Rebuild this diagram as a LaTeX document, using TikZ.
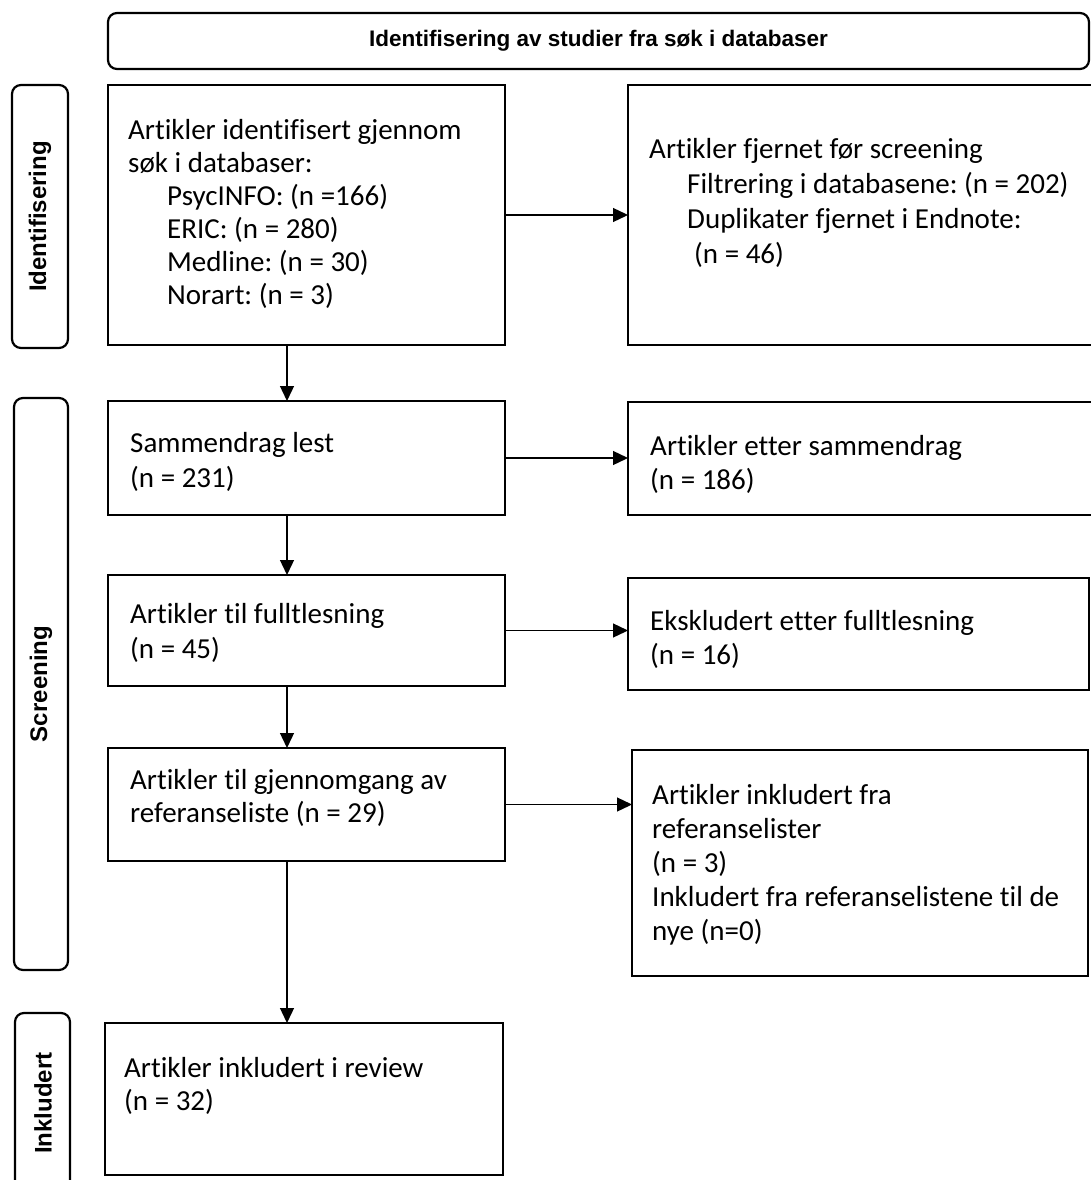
\documentclass[tikz,border=0pt]{standalone}
\usepackage{fontspec}
\setmainfont{Carlito}[Ligatures=NoCommon]
\newfontfamily\labelfont{Liberation Sans}
\usetikzlibrary{arrows.meta,calc}
\frenchspacing
\begin{document}
\begin{tikzpicture}[x=1pt,y=-1pt,
  box/.style={draw=black, line width=2.4pt, rectangle, inner sep=0pt, outer sep=0pt},
  lab/.style={draw=black, line width=2.2pt, rectangle, rounded corners=9pt, inner sep=0pt, outer sep=0pt,
    font=\labelfont\bfseries\fontsize{24}{28}\selectfont},
  body/.style={anchor=north west, inner sep=0pt, align=left},
  arr/.style={line width=1.3pt, -{Triangle[length=15pt,width=14pt]}}]
\useasboundingbox (0,0) rectangle (1091,1180);
\clip (0,0) rectangle (1091,1180);
% header
\node[lab, minimum width=981pt, minimum height=56pt, font=\labelfont\bfseries\fontsize{22.5}{27}\selectfont] (hdr) at (598.5,41) {Identifisering av studier fra søk i databaser};
% phase labels
\node[lab, rotate=90, minimum width=263pt, minimum height=56pt] (lab1) at (40,216.5) {Identifisering};
\node[lab, rotate=90, minimum width=572pt, minimum height=54pt] (lab2) at (41,684) {Screening};
\node[lab, rotate=90, minimum width=190pt, minimum height=55pt] (lab3) at (42.5,1108) {};
\node[rotate=90, font=\labelfont\bfseries\fontsize{24}{28}\selectfont, inner sep=0pt] (lab3t) at (43,1103) {Inkludert};
% boxes
\node[box, minimum width=397pt, minimum height=260pt] (a1) at (306.5,215) {};
\node[box, minimum width=472pt, minimum height=260pt] (b1) at (864,215) {};
\node[box, minimum width=397pt, minimum height=114pt] (a2) at (306.5,458) {};
\node[box, minimum width=472pt, minimum height=113pt] (b2) at (864,458.5) {};
\node[box, minimum width=397pt, minimum height=111pt] (a3) at (306.5,630.5) {};
\node[box, minimum width=461pt, minimum height=112pt] (b3) at (858.5,634) {};
\node[box, minimum width=397pt, minimum height=113pt] (a4) at (306.5,804.5) {};
\node[box, minimum width=456pt, minimum height=226pt] (b4) at (860,863) {};
\node[box, minimum width=398pt, minimum height=152pt] (a5) at (304,1099) {};
% texts
\node[body, font=\fontsize{29}{33}\selectfont] (a1t) at (128,116) {\strut Artikler identifisert gjennom\\søk i databaser:\\\hspace*{39pt}PsycINFO: (n =166)\\\hspace*{39pt}ERIC: (n = 280)\\\hspace*{39pt}Medline: (n = 30)\\\hspace*{39pt}Norart: (n = 3)};
\node[body, font=\fontsize{29}{35}\selectfont] (b1t) at (649,134) {\strut Artikler fjernet før screening\\\hspace*{38pt}Filtrering i databasene: (n = 202)\\\hspace*{38pt}Duplikater fjernet i Endnote:\\\hspace*{45pt}(n = 46)};
\node[body, font=\fontsize{29}{35}\selectfont] (a2t) at (130,428) {\strut Sammendrag lest\\(n = 231)};
\node[body, font=\fontsize{29}{34}\selectfont] (b2t) at (650,431.5) {\strut Artikler etter sammendrag\\(n = 186)};
\node[body, font=\fontsize{29}{35}\selectfont] (a3t) at (130,599) {\strut Artikler til fulltlesning\\(n = 45)};
\node[body, font=\fontsize{29}{34}\selectfont] (b3t) at (650,606.5) {\strut Ekskludert etter fulltlesning\\(n = 16)};
\node[body, font=\fontsize{29}{33}\selectfont] (a4t) at (130,766) {\strut Artikler til gjennomgang av\\referanseliste (n = 29)};
\node[body, font=\fontsize{29}{34}\selectfont] (b4t) at (652,780.5) {\strut Artikler inkludert fra\\referanselister\\(n = 3)\\Inkludert fra referanselistene til de\\nye (n=0)};
\node[body, font=\fontsize{29}{33}\selectfont] (a5t) at (124,1054) {\strut Artikler inkludert i review\\(n = 32)};
% connectors
\coordinate (vx) at (287,0);
\draw[arr] (a1.east) -- (a1.east -| b1.west);
\draw[arr] (a2.east) -- (a2.east -| b2.west);
\draw[arr] (a3.east) -- (a3.east -| b3.west);
\draw[arr] (a4.east) -- (a4.east -| b4.west);
\draw[arr] (a1.south -| vx) -- (a2.north -| vx);
\draw[arr] (a2.south -| vx) -- (a3.north -| vx);
\draw[arr] (a3.south -| vx) -- (a4.north -| vx);
\draw[arr] (a4.south -| vx) -- (a5.north -| vx);
\end{tikzpicture}
\end{document}
